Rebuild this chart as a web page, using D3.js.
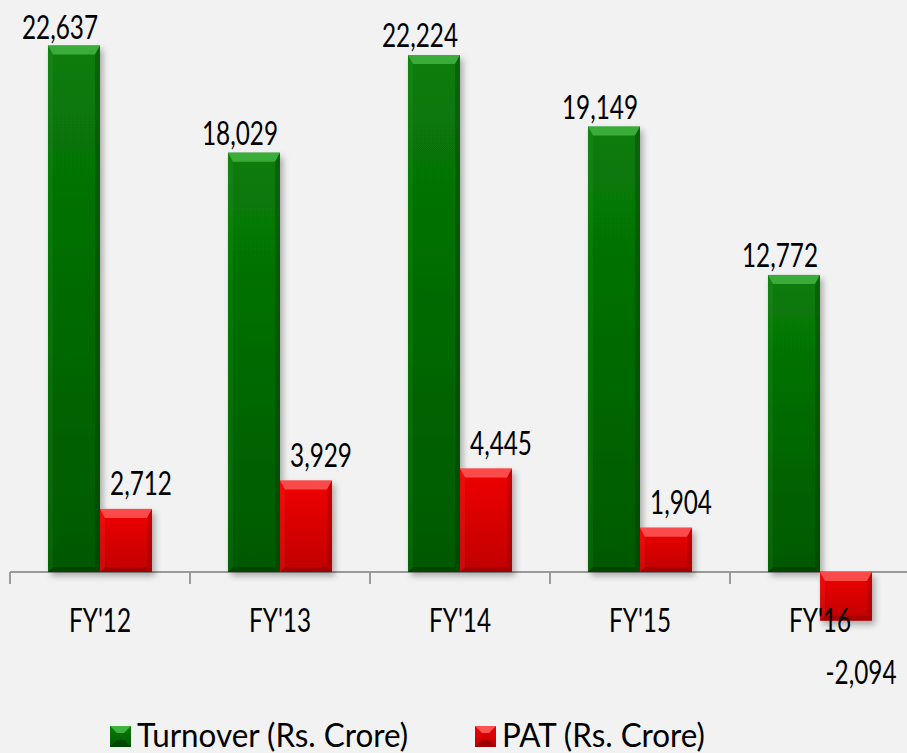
<!DOCTYPE html>
<html>
<head>
<meta charset="utf-8">
<script src="https://cdn.jsdelivr.net/npm/d3@7.9.0/dist/d3.min.js"></script>
<style>
  html, body { margin: 0; padding: 0; background: #f2f2f2; }
  svg { display: block; }
  text { font-family: Lato, "Open Sans", sans-serif; fill: #000; }
</style>
</head>
<body>
<svg id="chart" width="907" height="753"></svg>
<script>
// chart data
const years = ["FY'12", "FY'13", "FY'14", "FY'15", "FY'16"];
const seriesNames = ["Turnover (Rs. Crore)", "PAT (Rs. Crore)"];
const turnover = [22637, 18029, 22224, 19149, 12772];
const pat = [2712, 3929, 4445, 1904, -2094];

const W = 907, H = 753;
const squeeze = 0.76; // text is drawn a bit narrow, like the picture
const svg = d3.select("#chart");

const colors = {
  green: { top: "#087c08", bottom: "#005800", light: "#45b845", dark: "#002e00" },
  red:   { top: "#f00000", bottom: "#c00000", light: "#ff5c5c", dark: "#7a0000" }
};

const defs = svg.append("defs");
Object.entries(colors).forEach(([k, c]) => {
  let g = defs.append("linearGradient").attr("id", "grad-" + k)
    .attr("x1", 0).attr("y1", 0).attr("x2", 0).attr("y2", 1);
  g.append("stop").attr("offset", "0%").attr("stop-color", c.top);
  g.append("stop").attr("offset", "100%").attr("stop-color", c.bottom);
});
let shadow = defs.append("filter").attr("id", "shadow")
  .attr("x", "-20%").attr("y", "-20%").attr("width", "150%").attr("height", "150%");
shadow.append("feDropShadow").attr("dx", 3).attr("dy", 4).attr("stdDeviation", 3)
  .attr("flood-color", "#000").attr("flood-opacity", 0.3);

// scales
const x0 = d3.scaleBand().domain(years).range([10, 910]);
const x1 = d3.scaleBand().domain(seriesNames).range([0, x0.bandwidth()]).paddingOuter(0.73);
const y = d3.scaleLinear().domain([0, 24000]).range([572, 572 - 24000 * 0.02326]);

const rows = years.map((yr, i) => ({ yr, vals: [turnover[i], pat[i]] }));

function bevelBar(g, x, yTop, w, h, c, key) {
  let b = Math.min(9, h / 2), s = Math.min(5, w / 2);
  let grp = g.append("g");
  grp.append("rect").attr("x", x).attr("y", yTop).attr("width", w).attr("height", h)
    .attr("fill", `url(#grad-${key})`).attr("filter", "url(#shadow)");
  const poly = (pts, fill, op) => grp.append("polygon")
    .attr("points", pts.map(p => p.join(",")).join(" "))
    .attr("fill", fill).attr("opacity", op);
  let x2 = x + w, y2 = yTop + h;
  poly([[x, yTop], [x2, yTop], [x2 - s, yTop + b], [x + s, yTop + b]], c.light, 0.8);
  poly([[x, yTop], [x + s, yTop + b], [x + s, y2 - s], [x, y2]], c.light, 0.12);
  poly([[x2, yTop], [x2, y2], [x2 - s, y2 - s], [x2 - s, yTop + b]], c.dark, 0.3);
  poly([[x, y2], [x + s, y2 - s], [x2 - s, y2 - s], [x2, y2]], c.dark, 0.4);
}

function label(txt, cx, base, size) {
  svg.append("text")
    .attr("transform", `translate(${cx},${base}) scale(${squeeze},1)`)
    .attr("text-anchor", "middle")
    .attr("font-size", size)
    .text(txt);
}

// axis line and ticks
const axisG = svg.append("g");
axisG.append("line").attr("x1", 10).attr("x2", W).attr("y1", y(0)).attr("y2", y(0))
  .attr("stroke", "#9a9a9a").attr("stroke-width", 2);
years.forEach(yr => {
  axisG.append("line").attr("x1", x0(yr)).attr("x2", x0(yr))
    .attr("y1", y(0)).attr("y2", y(0) + 12)
    .attr("stroke", "#9a9a9a").attr("stroke-width", 2);
});

const fmt = v => d3.format(",")(v).replace("\u2212", "-");
const barsG = svg.append("g");
rows.forEach(r => {
  r.vals.forEach((v, si) => {
    let key = si === 0 ? "green" : "red";
    let bx = x0(r.yr) + x1(seriesNames[si]);
    let bw = x1.bandwidth();
    let top = y(Math.max(v, 0)), bot = y(Math.min(v, 0));
    bevelBar(barsG, bx, top, bw, bot - top, colors[key], key);
  });
});

// category labels
years.forEach(yr => label(yr, x0(yr) + x0.bandwidth() / 2, 632, 32));

// value labels
rows.forEach(r => {
  r.vals.forEach((v, si) => {
    let bx = x0(r.yr) + x1(seriesNames[si]) + x1.bandwidth() / 2;
    let cx = si === 0 ? bx - 14 : bx + 15;
    let base;
    if (v >= 0) base = Math.max(39, y(v) - (si === 0 ? 8 : 14));
    else base = y(v) + 63;
    label(fmt(v), cx, base, 32);
  });
});

// legend
const legendX = [110, 475];
seriesNames.forEach((name, si) => {
  let key = si === 0 ? "green" : "red";
  let c = colors[key];
  let lx = legendX[si], ly = 726, s = 21;
  let g = svg.append("g");
  g.append("rect").attr("x", lx).attr("y", ly).attr("width", s).attr("height", s)
    .attr("fill", `url(#grad-${key})`);
  const poly = (pts, fill, op) => g.append("polygon")
    .attr("points", pts.map(p => p.join(",")).join(" ")).attr("fill", fill).attr("opacity", op);
  let b = 7;
  poly([[lx, ly], [lx + s, ly], [lx + s - b, ly + b], [lx + b, ly + b]], c.light, 0.9);
  poly([[lx, ly + s], [lx + b, ly + s - b], [lx + s - b, ly + s - b], [lx + s, ly + s]], c.dark, 0.5);
  svg.append("text")
    .attr("transform", `translate(${lx + 27},${ly + 21}) scale(0.98,1)`)
    .attr("font-size", 32)
    .text(name);
});
</script>
</body>
</html>
